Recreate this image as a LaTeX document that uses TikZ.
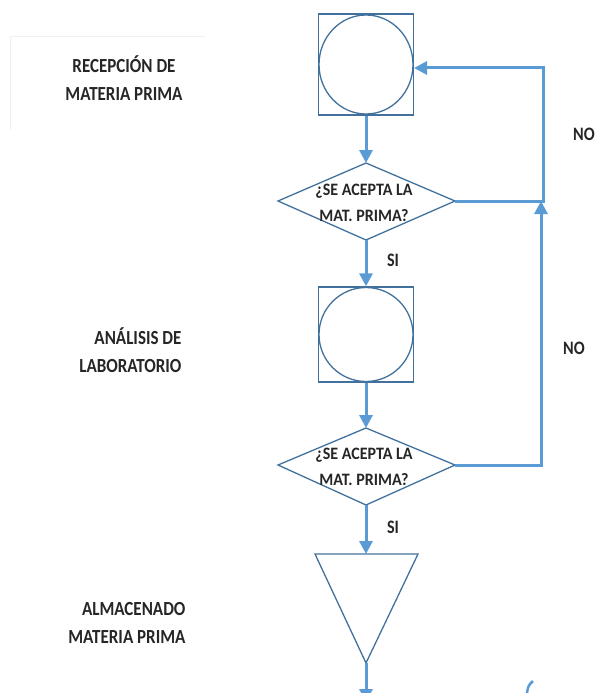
\documentclass[tikz,border=0pt]{standalone}
\usepackage{fontspec}
\setmainfont{Carlito}
\newfontfamily\condfont[FakeStretch=0.85]{Carlito}
\newfontfamily\dfont[FakeStretch=0.92]{Carlito}
\usetikzlibrary{arrows.meta,shapes.geometric}
\definecolor{conn}{HTML}{5B9BD5}
\definecolor{shp}{HTML}{41719C}
\tikzset{
  x=1pt,y=-1pt,
  conn/.style={draw=conn,line width=3pt,-{Triangle[length=13pt,width=13pt]}},
  connplain/.style={draw=conn,line width=3pt},
  shp/.style={draw=shp,line width=1.3pt},
  lbl/.style={font=\condfont\bfseries\fontsize{20}{28.5}\selectfont,align=right,anchor=east,text=black!85},
  lblc/.style={font=\condfont\bfseries\fontsize{20}{28}\selectfont,align=center,text=black!85},
  dtxt/.style={font=\dfont\bfseries\fontsize{17.4}{26.5}\selectfont,align=center,text=black!85},
  nolbl/.style={font=\condfont\bfseries\fontsize{19}{20}\selectfont,text=black!85}
}
\begin{document}
\begin{tikzpicture}
\useasboundingbox (0,0) rectangle (596,693);
% faint frame
\draw[black!6,line width=1pt] (10,130) -- (10,37) -- (205,37);
% labels
\node[lblc] (l1) at (124,78) {RECEPCIÓN DE\\MATERIA PRIMA};
\node[lbl] (l2) at (185,350) {ANÁLISIS DE\\LABORATORIO};
\node[lbl] (l3) at (189,623) {ALMACENADO\\MATERIA PRIMA};
% box 1
\node[shp,minimum width=95pt,minimum height=101pt,draw,rectangle,inner sep=0] (b1) at (366,64.5) {};
\draw[shp] (b1.center) ellipse (47pt and 49.5pt);
% diamond 1
\coordinate (d1) at (366,201);
\draw[shp] (278,201) coordinate (d1w) -- (366,163) coordinate (d1n) -- (455,201) coordinate (d1e) -- (366,240) coordinate (d1s) -- cycle;
\node[dtxt] (t1) at (364,203) {¿SE ACEPTA LA\\MAT. PRIMA?};
% box 2
\node[shp,minimum width=95pt,minimum height=95pt,draw,rectangle,inner sep=0] (b2) at (366,334.5) {};
\draw[shp] (b2.center) circle (47pt);
% diamond 2
\coordinate (d2) at (366,465);
\draw[shp] (278,465) coordinate (d2w) -- (366,428) coordinate (d2n) -- (455,465) coordinate (d2e) -- (366,505) coordinate (d2s) -- cycle;
\node[dtxt] (t2) at (364,467) {¿SE ACEPTA LA\\MAT. PRIMA?};
% triangle
\draw[shp] (315,554) coordinate (trw) -- (418,554) coordinate (tre) -- (366,663) coordinate (trs) -- cycle;
\coordinate (trn) at (366,554);
% connectors
\draw[conn] (b1.south) -- (d1n);
\draw[conn] (d1s) -- (b2.north);
\draw[conn] (b2.south) -- (d2n);
\draw[conn] (d2s) -- (trn);
\coordinate (bot) at (366,702);
\draw[conn] (trs) -- (bot);
\coordinate (r1) at (543,201);
\coordinate (r1t) at (543,68);
\coordinate (b1e) at (414,68);
\draw[conn] (d1e) -- (r1) -- (r1t) -- (b1e);
\coordinate (r2) at (541,465);
\coordinate (r2t) at (541,201);
\draw[conn] (d2e) -- (r2) -- (r2t);
% labels on connectors
\node[nolbl] (no1) at (584,134) {NO};
\node[nolbl] (no2) at (574,348) {NO};
\node[nolbl] (si1) at (393,260) {SI};
\node[nolbl] (si2) at (393,527) {SI};
% fragment
\draw[connplain,line width=2.5pt] (533,681) .. controls (528,685) and (527,689) .. (527,696);
\end{tikzpicture}
\end{document}
